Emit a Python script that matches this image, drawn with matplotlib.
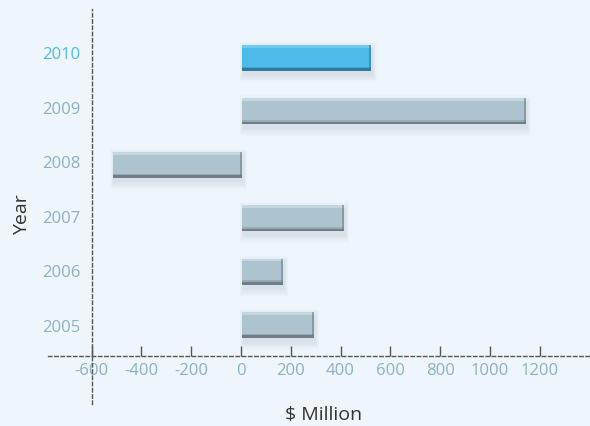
import matplotlib.pyplot as plt
import numpy as np

years = ['2005', '2006', '2007', '2008', '2009', '2010']
values = [290, 165, 410, -520, 1140, 520]
xticks = [-600, -400, -200, 0, 200, 400, 600, 800, 1000, 1200]

bg = '#eef6fc'
grey = '#adc3cf'
grey_dark = '#6e7d86'
grey_light = '#c6d6df'
blue = '#4cbbe9'
blue_dark = '#2f7a9e'
blue_light = '#6fcaef'
label_col = '#8cb0c3'

plt.rcParams['font.family'] = ['Open Sans', 'DejaVu Sans']

fig = plt.figure(figsize=(5.9, 4.27), dpi=100, facecolor=bg)
ax = fig.add_axes([0.0814, 0.0515, 0.9186, 0.925])
ax.set_facecolor(bg)

y = np.arange(len(years))
h = 0.487

# soft shadow
for k in range(7):
    grow = k * 0.035
    for i, v in enumerate(values):
        lo = min(0, v) + 10 - grow * 70
        w = abs(v) + grow * 140
        ax.barh(y[i] - 0.08, w, left=lo, height=h + grow * 1.3,
                color='#8a9aa6', alpha=0.03, linewidth=0, zorder=1)

for i, v in enumerate(values):
    last = i == len(values) - 1
    c, cd, cl = (blue, blue_dark, blue_light) if last else (grey, grey_dark, grey_light)
    lo = min(0, v) + 4
    ax.barh(y[i], abs(v), left=lo, height=h, color=c, linewidth=0, zorder=3)
    # bottom dark bevel
    ax.barh(y[i] - h / 2 + 0.025, abs(v), left=lo, height=0.05, color=cd, linewidth=0, zorder=4)
    ax.barh(y[i] - h / 2 + 0.065, abs(v), left=lo, height=0.03, color=cd, alpha=0.35, linewidth=0, zorder=4)
    # top light bevel
    ax.barh(y[i] + h / 2 - 0.025, abs(v), left=lo, height=0.05, color=cl, linewidth=0, zorder=4)
    # right dark edge
    ax.barh(y[i], 9, left=lo + abs(v) - 9, height=h, color=cd, alpha=0.6, linewidth=0, zorder=5)

ax.set_xlim(-775, 1402)
ax.set_ylim(-1.479, 5.918)

for s in ['top', 'right']:
    ax.spines[s].set_visible(False)
ax.spines['bottom'].set_position(('data', -0.58))
ax.spines['left'].set_position(('data', -600))
for s in ['bottom', 'left']:
    ax.spines[s].set_linestyle((0, (2.5, 2)))
    ax.spines[s].set_color('#555555')
    ax.spines[s].set_linewidth(1)

ax.set_xticks(xticks)
ax.set_xticklabels([str(t) for t in xticks])
ax.tick_params(axis='x', direction='in', length=7, width=1, color='#555555',
               labelcolor=label_col, labelsize=12, pad=4)
# labels are spaced a little wider than the bars in the original
ax.set_yticks(y * 54.6 / 53.4)
ax.set_yticklabels(years)
ax.tick_params(axis='y', length=0, labelcolor=label_col, labelsize=12, pad=8)
ax.get_yticklabels()[-1].set_color(blue)

fig.text(0.037, 0.497, 'Year', rotation=90, ha='center', va='center',
         fontsize=14, color='#333333')
fig.text(0.549, 0.028, '$ Million', ha='center', va='center',
         fontsize=14, color='#333333')

fig.savefig('out.png', dpi=100, facecolor=bg)
